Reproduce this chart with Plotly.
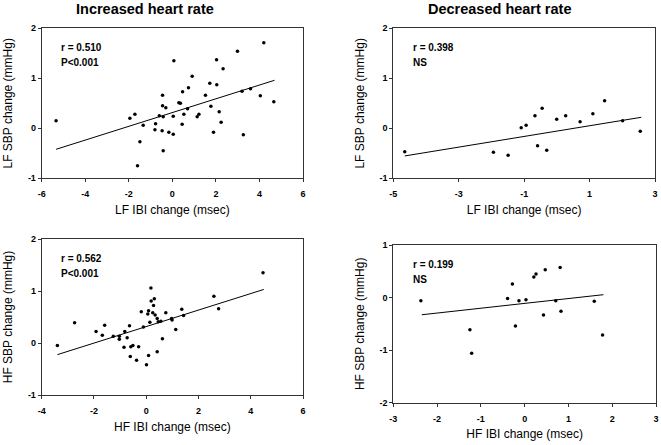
import plotly.graph_objects as go

# Panel 1: LF, increased heart rate
lf_inc_x = [-5.34, -1.95, -1.72, -1.60, -1.49, -1.34, -0.77, -0.80, -0.60, -0.47, -0.45, -0.45, -0.42, -0.42,
            -0.30, -0.16, 0.04, 0.04, 0.07, 0.30, 0.37, 0.47, 0.45, 0.53, 0.70, 0.74, 0.91, 1.14, 1.22, 1.52,
            1.72, 1.77, 1.89, 2.03, 2.04, 2.15, 2.24, 2.33, 2.99, 3.20, 3.26, 3.59, 4.04, 4.20, 4.66]
lf_inc_y = [0.15, 0.20, 0.28, -0.75, -0.27, 0.06, 0.09, -0.03, 0.25, -0.05, 0.66, 0.45, 0.23, -0.45,
            0.41, -0.08, 0.24, -0.12, 1.35, 0.51, 0.50, 0.73, 0.08, 0.28, 0.39, 0.81, 1.04, 0.23, 0.28, 0.66,
            0.90, 0.44, -0.08, 1.37, 0.87, 0.33, 0.12, 1.19, 1.54, 0.74, -0.13, 0.79, 0.65, 1.71, 0.53]
lf_inc_fit_x = [-5.34, 4.69]
lf_inc_fit_y = [-0.42, 0.96]

# Panel 2: LF, decreased heart rate
lf_dec_x = [-4.65, -1.94, -1.49, -1.09, -0.94, -0.67, -0.59, -0.45, -0.31, -0.005, 0.27, 0.71, 1.10, 1.46, 2.01, 2.55]
lf_dec_y = [-0.47, -0.48, -0.54, 0.01, 0.06, 0.25, -0.35, 0.40, -0.44, 0.18, 0.25, 0.13, 0.29, 0.55, 0.15, -0.06]
lf_dec_fit_x = [-4.65, 2.58]
lf_dec_fit_y = [-0.553, 0.22]

# Panel 3: HF, increased heart rate
hf_inc_x = [-3.40, -2.74, -1.92, -1.68, -1.59, -1.26, -1.03, -1.03, -0.82, -0.85, -0.73, -0.64, -0.61, -0.59,
            -0.51, -0.37, -0.29, -0.19, -0.11, 0.01, 0.09, 0.06, 0.09, 0.14, 0.18, 0.19, 0.25, 0.28, 0.31,
            0.34, 0.42, 0.42, 0.46, 0.56, 0.62, 0.75, 0.97, 0.99, 1.13, 1.36, 1.43, 2.59, 2.77, 4.47]
hf_inc_y = [-0.05, 0.39, 0.22, 0.15, 0.34, 0.13, 0.07, 0.13, 0.22, -0.08, 0.10, 0.33, -0.26, -0.07,
            -0.05, -0.33, -0.07, 0.60, 0.31, -0.42, -0.24, 0.56, 0.62, 0.40, 1.06, 0.81, 0.58, 0.72, 0.85,
            0.54, 0.47, -0.17, 0.41, 0.42, 0.08, 0.58, 0.47, 0.44, 0.26, 0.65, 0.53, 0.90, 0.66, 1.35]
hf_inc_fit_x = [-3.40, 4.50]
hf_inc_fit_y = [-0.224, 1.03]

# Panel 4: HF, decreased heart rate
hf_dec_x = [-2.37, -1.25, -1.21, -0.39, -0.28, -0.21, -0.13, 0.03, 0.21, 0.26, 0.43, 0.47, 0.71, 0.81, 0.83, 1.59, 1.78]
hf_dec_y = [-0.06, -0.61, -1.06, -0.02, 0.26, -0.54, -0.06, -0.04, 0.39, 0.45, -0.33, 0.53, -0.06, 0.57, -0.26, -0.07, -0.71]
hf_dec_fit_x = [-2.35, 1.80]
hf_dec_fit_y = [-0.327, 0.055]

# Tick labels
x1_ticks = [-6, -4, -2, 0, 2, 4, 6]
x2_ticks = [-5, -3, -1, 1, 3]
x3_ticks = [-4, -2, 0, 2, 4, 6]
x4_ticks = [-3, -2, -1, 0, 1, 2, 3]
y123_ticks = [-1, 0, 1, 2]
y4_ticks = [-2, -1, 0, 1]

stats_r = ["r = 0.510", "r = 0.398", "r = 0.562", "r = 0.199"]
stats_p = ["P&lt;0.001", "NS", "P&lt;0.001", "NS"]
col_titles = ["Increased heart rate", "Decreased heart rate"]
x_titles = ["LF IBI change (msec)", "LF IBI change (msec)", "HF IBI change (msec)", "HF IBI change (msec)"]
y_titles = ["LF SBP change (mmHg)", "LF SBP change (mmHg)", "HF SBP change (mmHg)", "HF SBP change (mmHg)"]

W, H = 661, 445
FONT = "Liberation Sans, Arial, sans-serif"

# panel pixel boxes (left, right, top, bottom)
boxes = [(41.7, 303.0, 28.3, 178.3), (393.3, 655.0, 28.3, 178.3),
         (41.7, 303.0, 239.0, 395.0), (393.3, 656.0, 245.0, 402.7)]

panels = [
    (lf_inc_x, lf_inc_y, lf_inc_fit_x, lf_inc_fit_y, x1_ticks, y123_ticks),
    (lf_dec_x, lf_dec_y, lf_dec_fit_x, lf_dec_fit_y, x2_ticks, y123_ticks),
    (hf_inc_x, hf_inc_y, hf_inc_fit_x, hf_inc_fit_y, x3_ticks, y123_ticks),
    (hf_dec_x, hf_dec_y, hf_dec_fit_x, hf_dec_fit_y, x4_ticks, y4_ticks),
]

def lab(v):
    return str(v).replace("\u2212", "-")

fig = go.Figure()
layout = {}
annotations = []
for i, (px, py, fx, fy, xt, yt) in enumerate(panels):
    n = "" if i == 0 else str(i + 1)
    xa, ya = "x" + n, "y" + n
    fig.add_trace(go.Scatter(x=fx, y=fy, mode="lines", line=dict(color="black", width=1),
                             xaxis=xa, yaxis=ya, showlegend=False, hoverinfo="skip"))
    fig.add_trace(go.Scatter(x=px, y=py, mode="markers", marker=dict(color="black", size=3.5),
                             xaxis=xa, yaxis=ya, showlegend=False))
    l, r, t, b = boxes[i]
    axcommon = dict(showline=True, mirror=True, linecolor="#333333", linewidth=1, showgrid=False,
                    zeroline=False, ticks="outside", ticklen=3, tickcolor="#333333", tickwidth=1,
                    tickfont=dict(family=FONT, size=9, color="black", weight="bold"), automargin=False)
    layout["xaxis" + n] = dict(axcommon, domain=[l / W, r / W], anchor=ya, ticklabelstandoff=4,
                               range=[xt[0], xt[-1]], tickvals=xt, ticktext=[lab(v) for v in xt],
                               title=dict(text=x_titles[i], font=dict(family=FONT, size=12, color="black"), standoff=7))
    layout["yaxis" + n] = dict(axcommon, domain=[1 - b / H, 1 - t / H], anchor=xa,
                               range=[yt[0], yt[-1]], tickvals=yt, ticktext=[lab(v) for v in yt],
                               title=dict(text=y_titles[i], font=dict(family=FONT, size=12, color="black"), standoff=12))
    annotations.append(dict(text=stats_r[i], xref="paper", yref="paper", x=(l + 17.5) / W, y=1 - (t + 19) / H,
                            xanchor="left", yanchor="middle", showarrow=False,
                            font=dict(family=FONT, size=10, color="black", weight="bold")))
    annotations.append(dict(text=stats_p[i], xref="paper", yref="paper", x=(l + 17.5) / W, y=1 - (t + 34) / H,
                            xanchor="left", yanchor="middle", showarrow=False,
                            font=dict(family=FONT, size=10, color="black", weight="bold")))

annotations.append(dict(text=col_titles[0], xref="paper", yref="paper", x=145 / W, y=1 - 8.5 / H,
                        xanchor="center", yanchor="middle", showarrow=False,
                        font=dict(family=FONT, size=14.5, color="black", weight="bold")))
annotations.append(dict(text=col_titles[1], xref="paper", yref="paper", x=500 / W, y=1 - 8.5 / H,
                        xanchor="center", yanchor="middle", showarrow=False,
                        font=dict(family=FONT, size=14.5, color="black", weight="bold")))

fig.update_layout(width=W, height=H, margin=dict(l=0, r=0, t=0, b=0),
                  paper_bgcolor="white", plot_bgcolor="white",
                  annotations=annotations, font=dict(family=FONT), **layout)

fig.write_html("out.html", config={"displayModeBar": False},
               post_script="document.body.style.margin='0';document.body.style.overflow='hidden';")
